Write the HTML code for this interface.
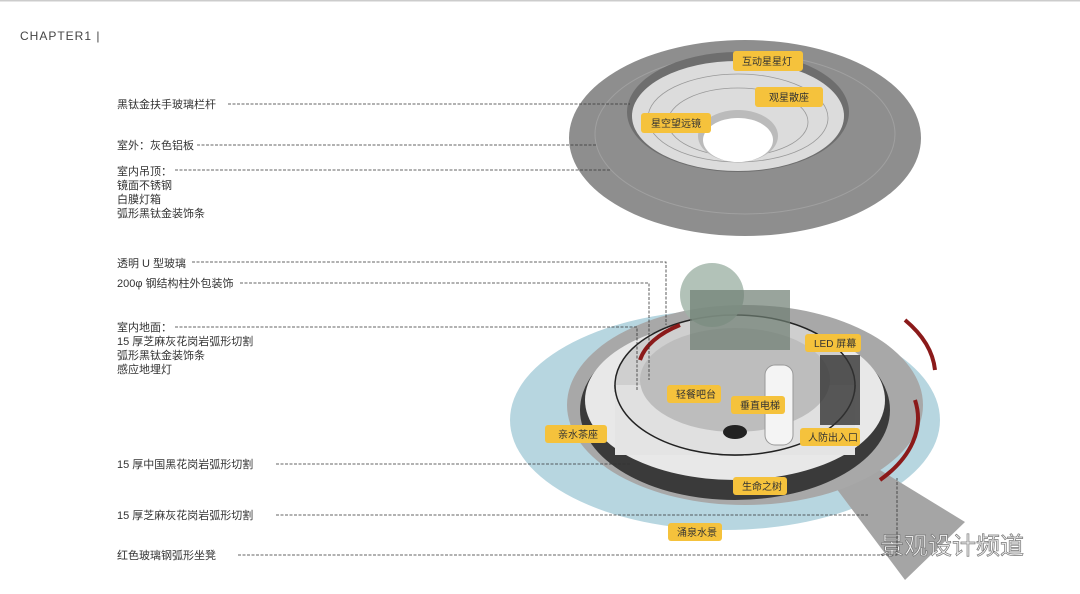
<!DOCTYPE html>
<html><head><meta charset="utf-8"><style>
body{margin:0;width:1080px;height:594px;background:#fff;overflow:hidden;font-family:"Liberation Sans","Noto Sans CJK SC",sans-serif}
svg{position:absolute;left:0;top:0}
.t{font-size:11px;fill:#333}
.tag{font-size:10px;fill:#333}
</style></head><body>
<svg width="1080" height="594" xmlns="http://www.w3.org/2000/svg">
<rect x="0" y="0" width="1080" height="1.5" fill="#ccc"/>
<text x="20" y="40" font-size="12" fill="#444" letter-spacing="1" font-family="Liberation Sans Narrow,Liberation Sans,sans-serif">CHAPTER1 |</text>

<!-- top disc -->
<ellipse cx="745" cy="138" rx="176" ry="98" fill="#8e8e8e"/>
<ellipse cx="745" cy="134" rx="150" ry="80" fill="none" stroke="#a0a0a0" stroke-width="1"/>
<ellipse cx="738" cy="112" rx="111" ry="60" fill="#6e6e6e"/>
<ellipse cx="738" cy="116" rx="106" ry="55" fill="#dcdcdc"/>
<ellipse cx="738" cy="118" rx="90" ry="44" fill="none" stroke="#999" stroke-width="0.8"/>
<ellipse cx="738" cy="122" rx="70" ry="34" fill="none" stroke="#999" stroke-width="0.8"/>
<ellipse cx="738" cy="136" rx="40" ry="26" fill="#bbb"/>
<ellipse cx="738" cy="140" rx="35" ry="22" fill="#fff"/>
<rect x="733" y="51" width="70" height="20" rx="3" fill="#f5c23c"/><text class="tag" x="742" y="65">互动星星灯</text>
<rect x="755" y="87" width="68" height="20" rx="3" fill="#f5c23c"/><text class="tag" x="769" y="101">观星散座</text>
<rect x="641" y="113" width="70" height="20" rx="3" fill="#f5c23c"/><text class="tag" x="651" y="127">星空望远镜</text>

<!-- bottom -->
<ellipse cx="725" cy="420" rx="215" ry="110" fill="#b7d6e0"/>
<polygon points="830,480 880,470 965,522 905,580" fill="#a5a5a5"/>
<ellipse cx="745" cy="405" rx="178" ry="100" fill="#a8a8a8"/>
<ellipse cx="735" cy="410" rx="155" ry="90" fill="#3a3a3a"/>
<ellipse cx="735" cy="400" rx="150" ry="80" fill="#e8e8e8"/>
<path d="M905 320 A178 100 0 0 1 935 370" stroke="#8b1a1a" stroke-width="4" fill="none"/>
<path d="M915 400 A178 100 0 0 1 880 480" stroke="#8b1a1a" stroke-width="4" fill="none"/>
<ellipse cx="735" cy="385" rx="120" ry="70" fill="#cfcfcf" stroke="#222" stroke-width="1.5"/>
<rect x="615" y="385" width="240" height="70" fill="#e4e4e4"/>
<path d="M615 385 A120 70 0 0 0 855 385" fill="#e0e0e0" stroke="#222" stroke-width="1.5"/>
<ellipse cx="735" cy="380" rx="95" ry="52" fill="#bdbdbd"/>
<ellipse cx="735" cy="432" rx="12" ry="7" fill="#222"/>
<path d="M640 360 A100 55 0 0 1 680 325" stroke="#8b1a1a" stroke-width="4" fill="none"/>
<circle cx="712" cy="295" r="32" fill="#9fb3a6" opacity="0.8"/>
<rect x="690" y="290" width="100" height="60" fill="#6e7d72" opacity="0.7"/>
<rect x="765" y="365" width="28" height="80" rx="10" fill="#f4f4f4" stroke="#999"/>
<rect x="820" y="355" width="40" height="70" fill="#333" opacity="0.8"/>

<rect x="805" y="334" width="56" height="18" rx="3" fill="#f5c23c"/><text class="tag" x="814" y="347">LED 屏幕</text>
<rect x="667" y="385" width="54" height="18" rx="3" fill="#f5c23c"/><text class="tag" x="676" y="398">轻餐吧台</text>
<rect x="731" y="396" width="54" height="18" rx="3" fill="#f5c23c"/><text class="tag" x="740" y="409">垂直电梯</text>
<rect x="545" y="425" width="62" height="18" rx="3" fill="#f5c23c"/><text class="tag" x="558" y="438">亲水茶座</text>
<rect x="800" y="428" width="60" height="18" rx="3" fill="#f5c23c"/><text class="tag" x="808" y="441">人防出入口</text>
<rect x="733" y="477" width="54" height="18" rx="3" fill="#f5c23c"/><text class="tag" x="742" y="490">生命之树</text>
<rect x="668" y="523" width="54" height="18" rx="3" fill="#f5c23c"/><text class="tag" x="677" y="536">涌泉水景</text>
<text x="880" y="554" font-size="24" fill="#f4f4f4" stroke="#777" stroke-width="0.7">景观设计频道</text>

<!-- labels -->
<g class="t">
<text x="117" y="108">黑钛金扶手玻璃栏杆</text>
<text x="117" y="149">室外：灰色铝板</text>
<text x="117" y="175">室内吊顶：</text>
<text x="117" y="189">镜面不锈钢</text>
<text x="117" y="203">白膜灯箱</text>
<text x="117" y="217">弧形黑钛金装饰条</text>
<text x="117" y="267">透明 U 型玻璃</text>
<text x="117" y="287">200φ 钢结构柱外包装饰</text>
<text x="117" y="331">室内地面：</text>
<text x="117" y="345">15 厚芝麻灰花岗岩弧形切割</text>
<text x="117" y="359">弧形黑钛金装饰条</text>
<text x="117" y="373">感应地埋灯</text>
<text x="117" y="468">15 厚中国黑花岗岩弧形切割</text>
<text x="117" y="519">15 厚芝麻灰花岗岩弧形切割</text>
<text x="117" y="559">红色玻璃钢弧形坐凳</text>
</g>
<g stroke="#333" stroke-width="0.8" stroke-dasharray="3,1.5" fill="none">
<path d="M228 104 H630"/>
<path d="M197 145 H596"/>
<path d="M175 170 H610"/>
<path d="M192 262 H666 V325"/>
<path d="M240 283 H649 V380"/>
<path d="M175 327 H637 V390"/>
<path d="M276 464 H630"/>
<path d="M276 515 H868"/>
<path d="M238 555 H897 V478"/>
</g>
</svg>
</body></html>
